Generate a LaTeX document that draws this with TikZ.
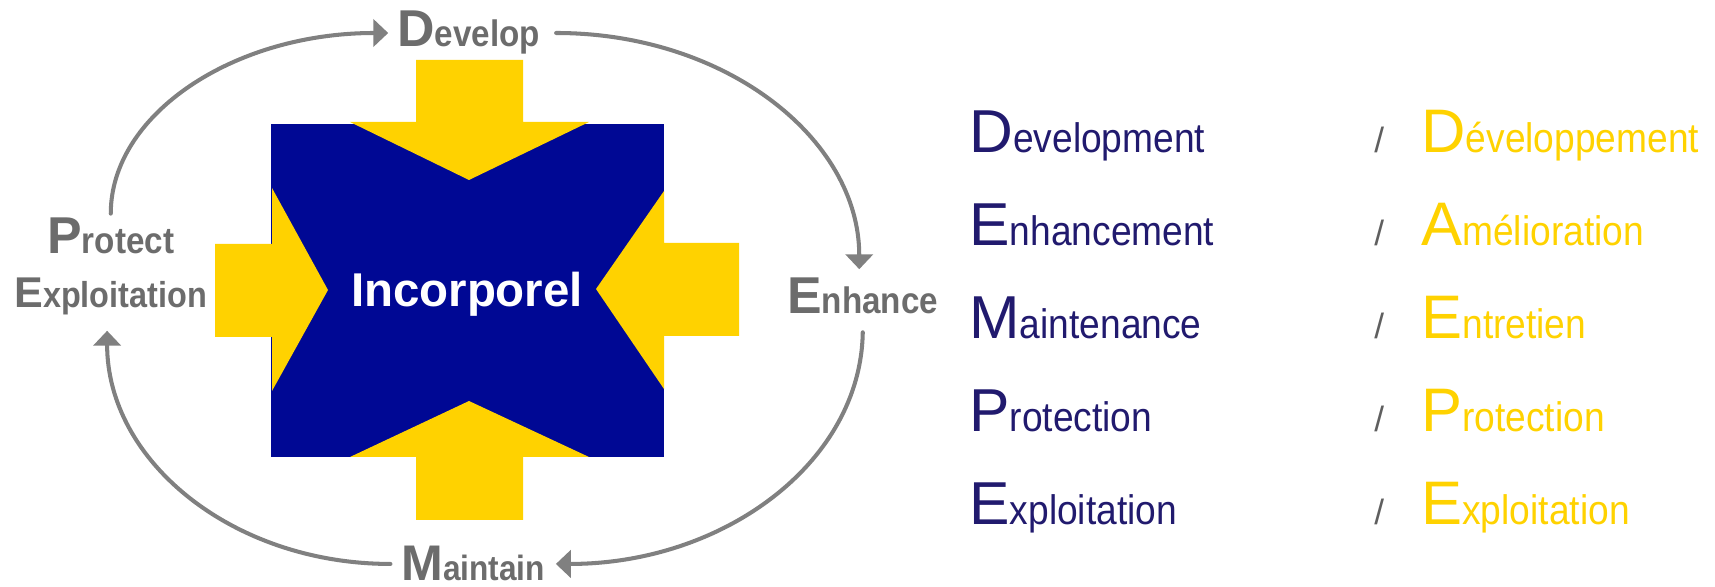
\documentclass[tikz,border=0pt]{standalone}
\usepackage{fontspec}
\setmainfont{Liberation Sans}
\newfontfamily\narrowsans{Liberation Sans}[FakeStretch=0.9]
\usepackage{tikz}
\usetikzlibrary{arrows.meta, positioning}

\definecolor{coreblue}{RGB}{0,8,148}
\definecolor{blockyellow}{RGB}{255,210,0}
\definecolor{labelgray}{RGB}{108,108,108}
\definecolor{arcgray}{RGB}{128,128,128}
\definecolor{slashgray}{RGB}{95,95,95}
\definecolor{listnavy}{RGB}{33,26,110}

% big first letter, rest of the word smaller
\newcommand{\capword}[4]{{\fontsize{#1}{#1}\selectfont #3}{\narrowsans\fontsize{#2}{#2}\selectfont #4}}

\begin{document}
\begin{tikzpicture}[
        x=0.02cm, y=-0.02cm,
        lbl/.style={
            inner sep=0pt,
            anchor=base west,
            text=labelgray,
            font=\bfseries
        },
        cyc/.style={
            draw=arcgray,
            line width=2.3pt,
            line cap=round,
            -{Triangle[length=8.5pt,width=15.5pt]}
        },
        block/.style={fill=blockyellow},
        en/.style={inner sep=0pt, anchor=base west, text=listnavy},
        fr/.style={inner sep=0pt, anchor=base west, text=blockyellow},
        sl/.style={inner sep=0pt, anchor=base west, text=slashgray,
            font=\fontsize{20pt}{20pt}\selectfont}
    ]
    \useasboundingbox (0,0) rectangle (1715,587);

    % centre block with the four arrows pushing in
    \fill[coreblue] (271,124) rectangle (664,457);
    \fill[block] (416,60) -- (523,60) -- (523,122) -- (589,122) -- (469,180)
        -- (350,122) -- (416,122) -- cycle;
    \fill[block] (416,520) -- (523,520) -- (523,457) -- (589,457) -- (469,401)
        -- (350,457) -- (416,457) -- cycle;
    \fill[block] (215,244) -- (272,244) -- (272,188) -- (328,290) -- (272,391)
        -- (272,337) -- (215,337) -- cycle;
    \fill[block] (739,243) -- (664,243) -- (664,191) -- (596,289) -- (664,389)
        -- (664,336) -- (739,336) -- cycle;
    \node[inner sep=0pt, anchor=base, text=white,
        font=\bfseries\fontsize{27pt}{27pt}\selectfont] (core) at (467,307) {Incorporel};

    % cycle labels
    \node[lbl] (develop) at (397,47) {\capword{29.5pt}{21pt}{D}{evelop}};
    \node[lbl] (enhance) at (787,314) {\capword{29.5pt}{21pt}{E}{nhance}};
    \node[lbl] (maintain) at (401,581) {\capword{28.5pt}{20pt}{M}{aintain}};
    \node[lbl] (protect) at (47,254) {\capword{29.5pt}{21pt}{P}{rotect}};
    \node[lbl] (exploit) at (14,308) {\capword{24.5pt}{20.5pt}{E}{xploitation}};

    % cycle arrows
    \draw[cyc] ([yshift=2.5pt]protect.north) .. controls +(0,-99) and +(-155,0)
        .. ([xshift=-5pt]develop.west);
    \draw[cyc] ([xshift=9pt]develop.east) .. controls +(170,0) and +(0,-130)
        .. ([xshift=-2pt,yshift=5pt]enhance.north);
    \draw[cyc] ([yshift=-10pt]enhance.south) .. controls +(-2,130) and +(168,0)
        .. ([xshift=6pt]maintain.east);
    \draw[cyc] ([xshift=-6pt]maintain.west) .. controls +(-157,0) and +(0,131)
        .. ([xshift=-2pt,yshift=-8.5pt]exploit.south);

    % word list, english / french
    \foreach \ea/\eb/\fa/\fb [count=\i] in {D/evelopment/D/éveloppement,
            E/nhancement/A/mélioration, M/aintenance/E/ntretien,
            P/rotection/P/rotection, E/xploitation/E/xploitation} {
        \node[en] (en\i) at (969,{153+92.75*(\i-1)}) {\capword{34.5pt}{23.5pt}{\ea}{\eb}};
        \node[sl] (sl\i) at (1374,{153+92.75*(\i-1)}) {/};
        \node[fr] (fr\i) at (1421,{153+92.75*(\i-1)}) {\capword{35pt}{23.5pt}{\fa}{\fb}};
    }
\end{tikzpicture}
\end{document}
